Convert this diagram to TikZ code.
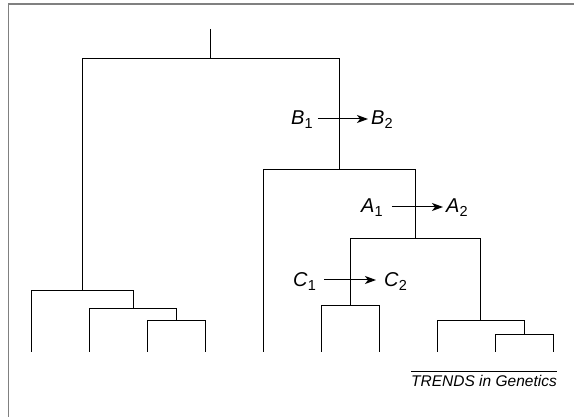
\documentclass[tikz,border=0pt]{standalone}
\usepackage{fontspec}
\setmainfont{Liberation Sans}
\usetikzlibrary{arrows.meta}
\newcommand{\mysub}[1]{\raisebox{-4pt}{\fontsize{14.5}{17}\selectfont #1}}
\begin{document}
\begin{tikzpicture}[x=1pt,y=-1pt,
  branch/.style={line width=1pt,black},
  frameline/.style={line width=1.4pt,color=black!50},
  lbl/.style={inner sep=0pt,anchor=base west,font=\fontsize{20}{24}\selectfont},
  mut/.style={line width=1pt,-{Stealth[length=11pt,width=8pt,inset=3pt]}},
  credit/.style={inner sep=0pt,anchor=base east,font=\fontsize{15.5}{18}\selectfont\itshape}]
\useasboundingbox (0,0) rectangle (574,417);
% frame (top and left edges)
\coordinate (fa) at (8.3,417);
\coordinate (fb) at (8.3,4);
\coordinate (fc) at (574,4);
\draw[frameline] (fa) -- (fb) -- (fc);
% tree coordinates
\coordinate (top) at (210,29);
\coordinate (n0) at (210,59);
\coordinate (n1) at (82,291);
\coordinate (n3) at (133,309);
\coordinate (n4) at (176,321);
\coordinate (l1) at (31,352);
\coordinate (l2) at (89,352);
\coordinate (l3) at (147,352);
\coordinate (l4) at (205,352);
\coordinate (n2) at (339,170);
\coordinate (n5) at (415,239);
\coordinate (n6) at (350,306);
\coordinate (n7) at (480,321);
\coordinate (n8) at (524,335);
\coordinate (l5) at (263,352);
\coordinate (l6) at (321,352);
\coordinate (l7) at (379,352);
\coordinate (l8) at (437,352);
\coordinate (l9) at (495,352);
\coordinate (l10) at (553,352);
% branches
\draw[branch] (top) -- (n0);
\draw[branch] (n0) -| (n1);
\draw[branch] (n0) -| (n2);
\draw[branch] (n1) -| (l1);
\draw[branch] (n1) -| (n3);
\draw[branch] (n3) -| (l2);
\draw[branch] (n3) -| (n4);
\draw[branch] (n4) -| (l3);
\draw[branch] (n4) -| (l4);
\draw[branch] (n2) -| (l5);
\draw[branch] (n2) -| (n5);
\draw[branch] (n5) -| (n6);
\draw[branch] (n5) -| (n7);
\draw[branch] (n6) -| (l6);
\draw[branch] (n6) -| (l7);
\draw[branch] (n7) -| (l8);
\draw[branch] (n7) -| (n8);
\draw[branch] (n8) -| (l9);
\draw[branch] (n8) -| (l10);
% mutation labels
\node[lbl] (b1) at (291,125) {\textit{B}\mysub{1}};
\node[lbl] (b2) at (371,125) {\textit{B}\mysub{2}};
\node[lbl] (a1) at (361,213) {\textit{A}\mysub{1}};
\node[lbl] (a2) at (446,213) {\textit{A}\mysub{2}};
\node[lbl] (c1) at (293,287) {\textit{C}\mysub{1}};
\node[lbl] (c2) at (384,287) {\textit{C}\mysub{2}};
\draw[mut] ([xshift=5pt,yshift=6pt]b1.base east) -- ([xshift=-3pt,yshift=6pt]b2.base west);
\draw[mut] ([xshift=9pt,yshift=6pt]a1.base east) -- ([xshift=-3pt,yshift=6pt]a2.base west);
\draw[mut] ([xshift=8pt,yshift=7pt]c1.base east) -- ([xshift=-8pt,yshift=7pt]c2.base west);
% credit
\node[credit] (tg) at (557,387) {TRENDS in Genetics};
\draw[line width=0.8pt] ([yshift=4.5pt]tg.north west) -- ([yshift=4.5pt]tg.north east);
\end{tikzpicture}
\end{document}
